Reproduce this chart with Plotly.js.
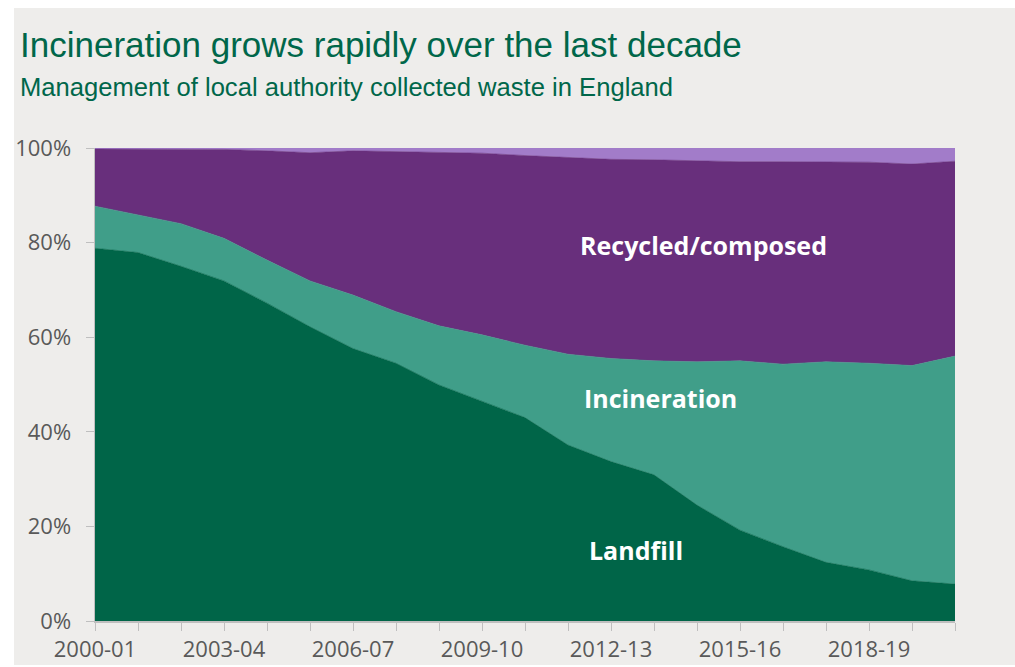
<!DOCTYPE html>
<html>
<head>
<meta charset="utf-8">
<script src="https://cdn.plot.ly/plotly-3.0.1.min.js"></script>
<style>
  html, body { margin: 0; padding: 0; background: #ffffff; }
  #chart { position: absolute; left: 14px; top: 8px; width: 1001px; height: 657px; }
</style>
</head>
<body>
<div id="chart"></div>
<script>
// Financial years (x categories)
const years = ["2000-01","2001-02","2002-03","2003-04","2004-05","2005-06","2006-07",
  "2007-08","2008-09","2009-10","2010-11","2011-12","2012-13","2013-14","2014-15",
  "2015-16","2016-17","2017-18","2018-19","2019-20","2020-21"];

// Shares of local authority collected waste (%)
const landfill     = [78.8, 77.9, 75.0, 71.9, 67.2, 62.2, 57.6, 54.5, 49.9, 46.5, 43.0, 37.2, 33.7, 30.9, 24.5, 19.2, 15.7, 12.4, 10.8, 8.5, 7.8];
const incineration = [8.9, 7.9, 9.0, 9.0, 9.1, 9.7, 11.3, 10.9, 12.5, 14.0, 15.3, 19.2, 21.8, 24.1, 30.3, 35.8, 38.6, 42.4, 43.7, 45.5, 48.2];
const recycled     = [12.1, 14.0, 15.8, 18.8, 23.1, 27.1, 30.5, 33.8, 36.7, 38.4, 40.1, 41.6, 42.1, 42.5, 42.5, 42.1, 42.8, 42.3, 42.5, 42.6, 41.2];
const other        = [0.2, 0.2, 0.2, 0.3, 0.6, 1.0, 0.6, 0.8, 0.9, 1.1, 1.6, 2.0, 2.4, 2.5, 2.7, 2.9, 2.9, 2.9, 3.0, 3.4, 2.8];

const seriesNames  = ["Landfill", "Incineration", "Recycled/composed", "Other"];
const seriesColors = ["#006548", "#409E89", "#682F7C", "#A27CC9"];
const yTicks = [0, 20, 40, 60, 80, 100];

const xIdx = years.map((_, i) => i);
const tickText = years.map((y, i) => (i % 3 === 0 ? y : ""));

const seriesData = [landfill, incineration, recycled, other];
const traces = seriesData.map((vals, k) => ({
  type: "scatter",
  mode: "lines",
  x: xIdx,
  y: vals,
  name: seriesNames[k],
  stackgroup: "one",
  fillcolor: seriesColors[k],
  line: { width: 0.6, color: seriesColors[k] },
  hoverinfo: "skip"
}));

const labelFont = { family: "Open Sans, sans-serif", size: 25, color: "#ffffff", weight: 700 };

const layout = {
  paper_bgcolor: "#EEEDEB",
  plot_bgcolor: "#EEEDEB",
  showlegend: false,
  margin: { l: 81, r: 60, t: 140, b: 44 },
  xaxis: {
    range: [0, 20],
    tickmode: "array",
    tickvals: xIdx,
    ticktext: tickText,
    ticks: "outside",
    ticklen: 8,
    tickcolor: "#BFBFBF",
    tickwidth: 1,
    showline: true,
    linecolor: "#BFBFBF",
    linewidth: 1.5,
    showgrid: false,
    zeroline: false,
    tickfont: { family: "Open Sans, sans-serif", size: 22, color: "#595959" },
    fixedrange: true
  },
  yaxis: {
    range: [0, 100],
    tickmode: "array",
    tickvals: yTicks,
    ticktext: yTicks.map(v => v + "%"),
    ticks: "outside",
    ticklen: 8,
    tickcolor: "#BFBFBF",
    tickwidth: 1,
    ticklabelstandoff: 10,
    showline: true,
    linecolor: "#BFBFBF",
    linewidth: 1.5,
    showgrid: false,
    zeroline: false,
    tickfont: { family: "Open Sans, sans-serif", size: 22, color: "#595959" },
    fixedrange: true
  },
  annotations: [
    { text: "Incineration grows rapidly over the last decade", xref: "paper", yref: "paper",
      x: -0.0895, y: 1.2195, xanchor: "left", yanchor: "middle", showarrow: false,
      font: { family: "Liberation Sans, Arial, sans-serif", size: 35, color: "#00674A" } },
    { text: "Management of local authority collected waste in England", xref: "paper", yref: "paper",
      x: -0.0895, y: 1.128, xanchor: "left", yanchor: "middle", showarrow: false,
      font: { family: "Liberation Sans, Arial, sans-serif", size: 25.6, color: "#00674A" } },
    { text: "Other", xref: "x", yref: "y", x: 16.45, y: 103.2, showarrow: false,
      xanchor: "center", yanchor: "middle",
      font: { family: "Open Sans, sans-serif", size: 25, color: "#A27CC9", weight: 700 } },
    { text: "Recycled/composed", xref: "x", yref: "y", x: 14.16, y: 79.5, showarrow: false,
      xanchor: "center", yanchor: "middle", font: labelFont },
    { text: "Incineration", xref: "x", yref: "y", x: 13.14, y: 47.1, showarrow: false,
      xanchor: "center", yanchor: "middle", font: labelFont },
    { text: "Landfill", xref: "x", yref: "y", x: 12.59, y: 15.1, showarrow: false,
      xanchor: "center", yanchor: "middle", font: labelFont }
  ]
};

Plotly.newPlot("chart", traces, layout, { displayModeBar: false, staticPlot: true });
</script>
</body>
</html>
